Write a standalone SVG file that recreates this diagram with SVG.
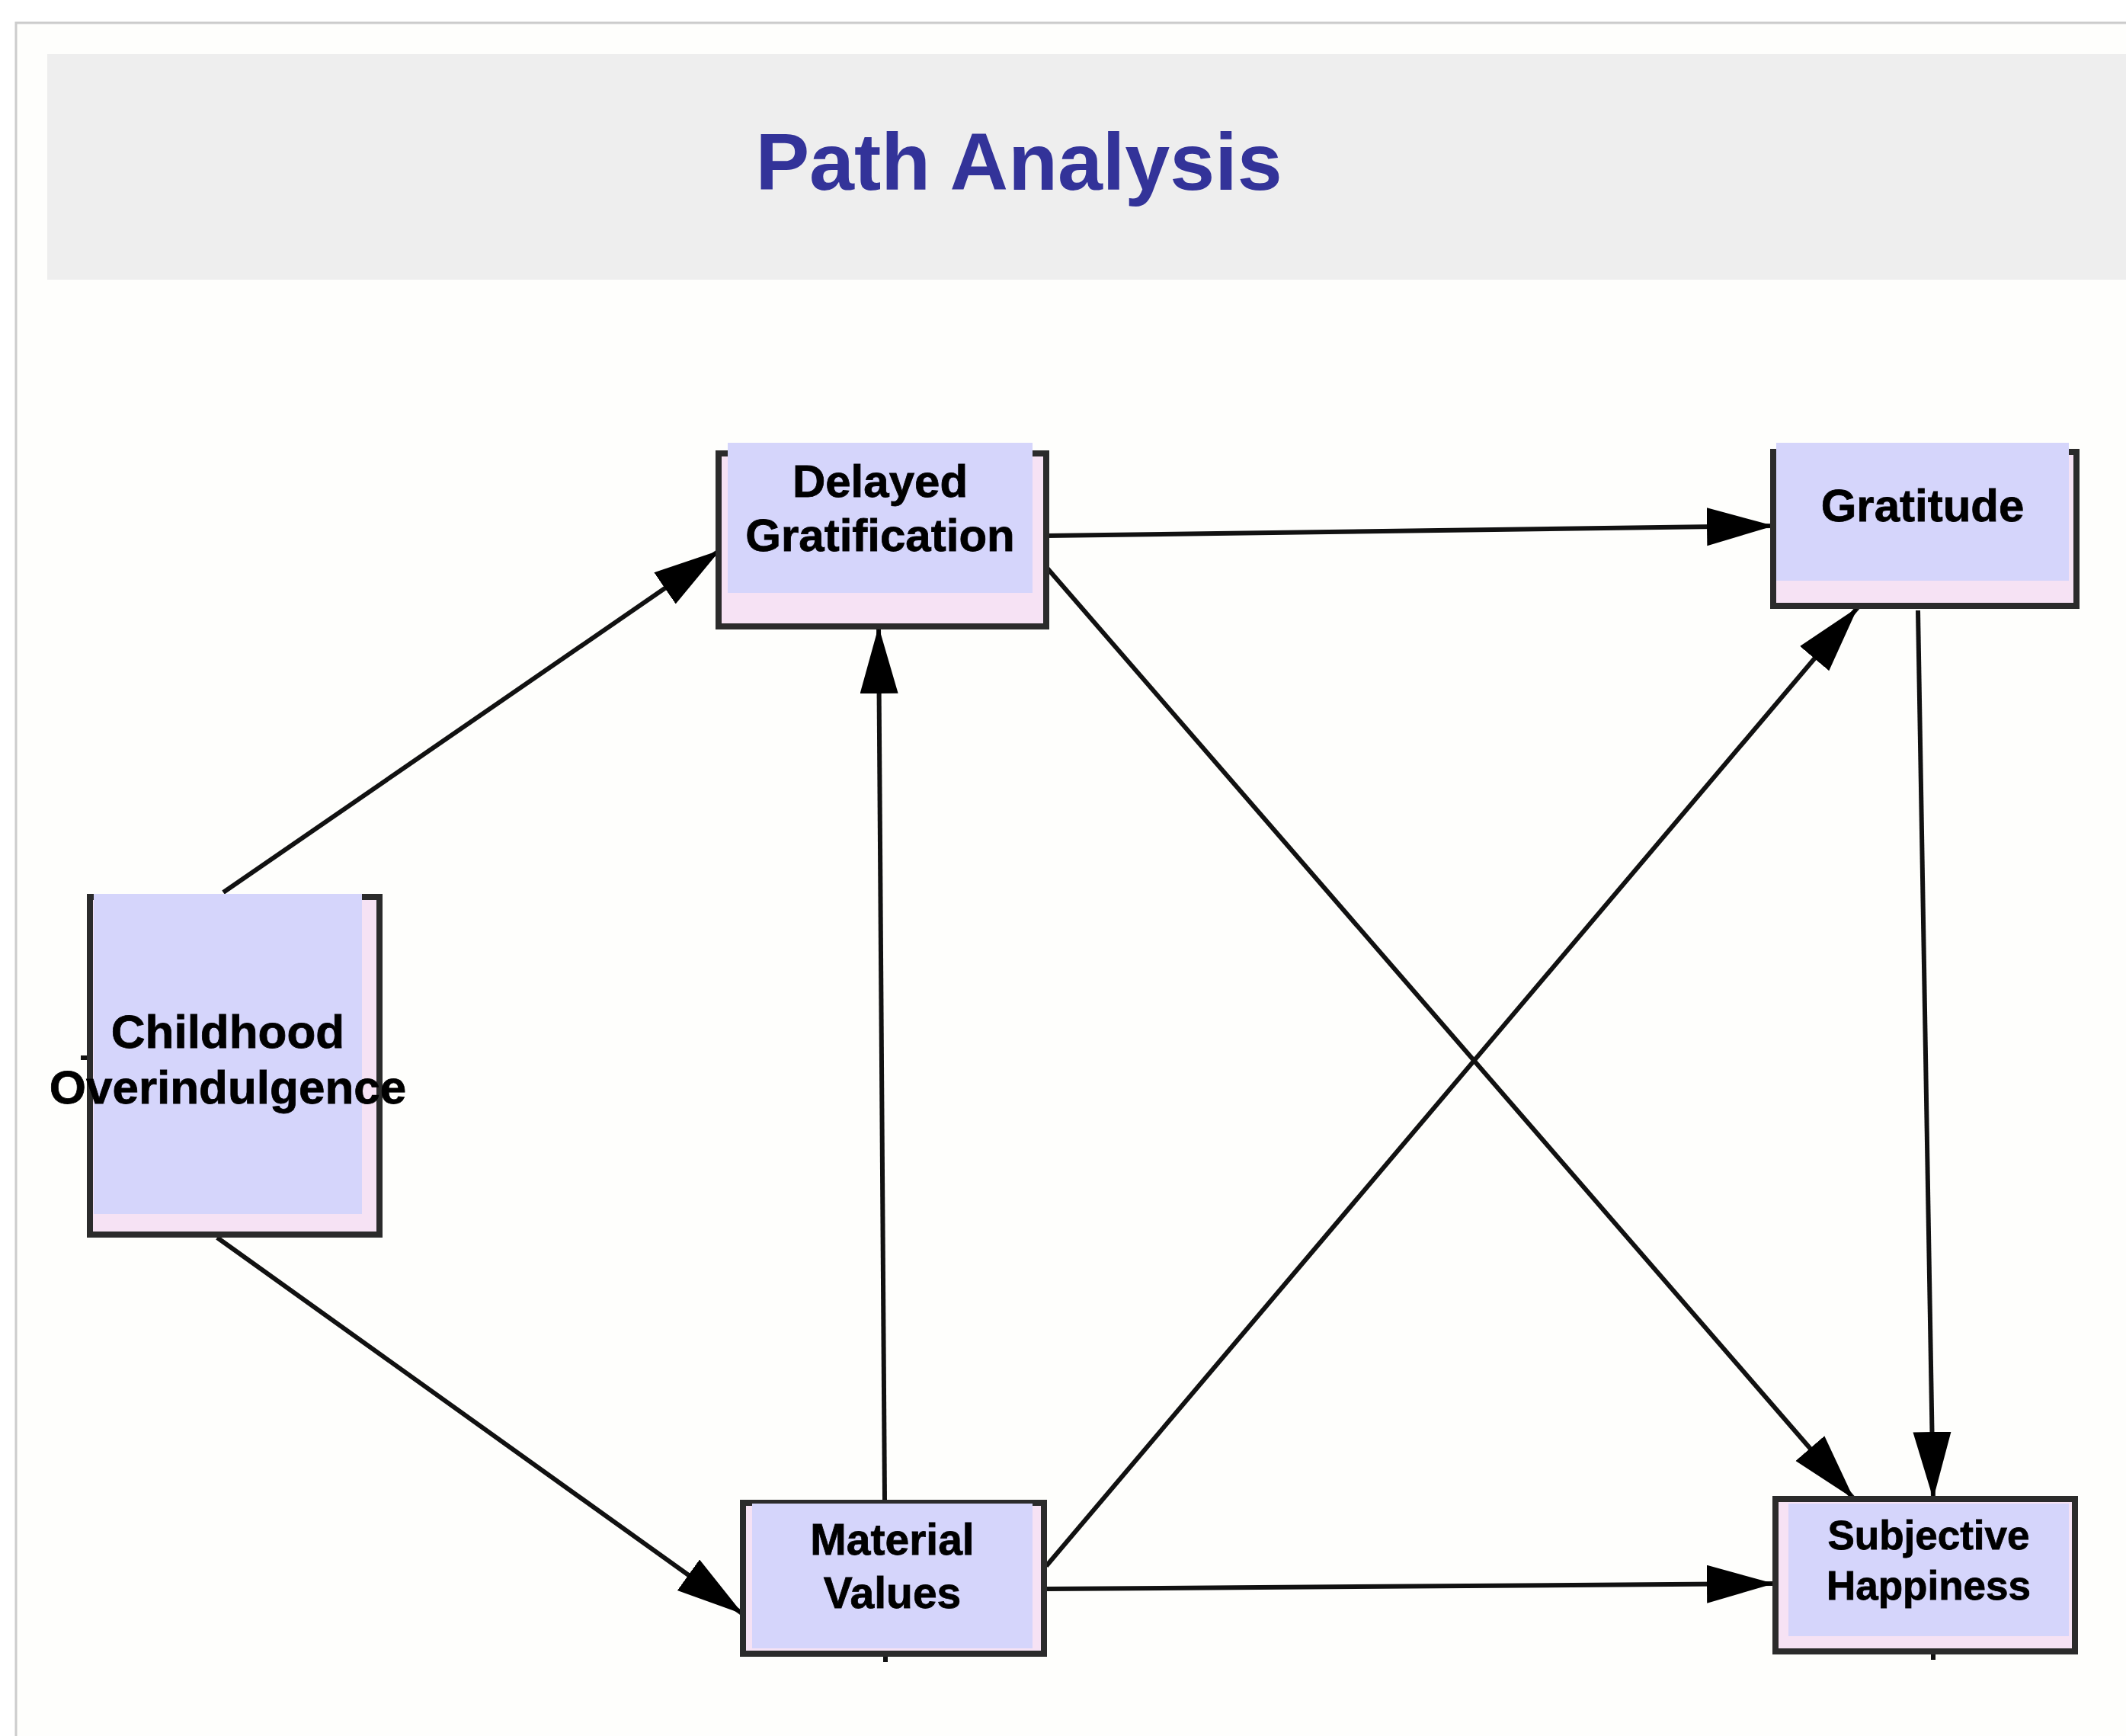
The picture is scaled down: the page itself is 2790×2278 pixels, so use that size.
<svg xmlns="http://www.w3.org/2000/svg" width="2790" height="2278" viewBox="0 0 2790 2278">
<style>
.box{fill:#f6e2f4;stroke:#2b2b2b;stroke-width:8}
.lbl{fill:#d5d5fb}
.t{font-family:"Liberation Sans",Arial,sans-serif;font-weight:bold;fill:#000;text-anchor:middle;stroke:#000;stroke-width:0.8}
.edge{stroke:#111;stroke-width:6;fill:none}
</style>
<defs>
<marker id="ah" markerUnits="userSpaceOnUse" markerWidth="92" markerHeight="52" refX="88" refY="25" orient="auto">
<path d="M0,0 L88,25 L0,50 z" fill="#000"/>
</marker>
</defs>
<rect x="0" y="0" width="2790" height="2278" fill="#ffffff"/>
<rect x="21" y="30" width="2790" height="2260" fill="#fefefc" stroke="#cccccc" stroke-width="3"/>
<rect x="62" y="71" width="2740" height="296" fill="#eeeeee"/>
<text x="1337" y="249" font-family="'Liberation Sans',Arial,sans-serif" font-weight="bold" font-size="106" fill="#333399" text-anchor="middle">Path Analysis</text>

<g id="connectors">
<line class="edge" x1="293" y1="1171" x2="945" y2="722" marker-end="url(#ah)"/>
<line class="edge" x1="285" y1="1624" x2="975" y2="2118" marker-end="url(#ah)"/>
<line class="edge" x1="1161" y1="1968" x2="1153" y2="822" marker-end="url(#ah)"/>
<line class="edge" x1="1373" y1="703" x2="2328" y2="690" marker-end="url(#ah)"/>
<line class="edge" x1="1373" y1="744" x2="2433" y2="1967" marker-end="url(#ah)"/>
<line class="edge" x1="1373" y1="2055" x2="2438" y2="797" marker-end="url(#ah)"/>
<line class="edge" x1="1373" y1="2085" x2="2328" y2="2078" marker-end="url(#ah)"/>
<line class="edge" x1="2517" y1="801" x2="2537" y2="1967" marker-end="url(#ah)"/>
<line class="edge" x1="1162" y1="2170" x2="1162" y2="2181"/>
<line class="edge" x1="2537" y1="2167" x2="2537" y2="2178"/>
<line class="edge" x1="106" y1="1388" x2="118" y2="1388"/>
</g>

<g id="node-childhood">
<rect class="box" x="118" y="1177" width="380" height="443"/>
<rect class="lbl" x="123" y="1173" width="352" height="420"/>
<text class="t" font-size="62"><tspan x="299" y="1375">Childhood</tspan><tspan x="299" y="1448">Overindulgence</tspan></text>
</g>

<g id="node-delayed">
<rect class="box" x="943" y="595" width="430" height="227"/>
<rect class="lbl" x="955" y="581" width="400" height="197"/>
<text class="t" font-size="60"><tspan x="1155" y="652">Delayed</tspan><tspan x="1155" y="723">Gratification</tspan></text>
</g>

<g id="node-gratitude">
<rect class="box" x="2327" y="593" width="398" height="202"/>
<rect class="lbl" x="2331" y="581" width="384" height="181"/>
<text class="t" font-size="60" x="2523" y="684">Gratitude</text>
</g>

<g id="node-material">
<rect class="box" x="975" y="1972" width="395" height="198"/>
<rect class="lbl" x="987" y="1973" width="368" height="190"/>
<text class="t" font-size="57"><tspan x="1171" y="2040">Material</tspan><tspan x="1171" y="2110">Values</tspan></text>
</g>

<g id="node-happiness">
<rect class="box" x="2330" y="1967" width="393" height="200"/>
<rect class="lbl" x="2347" y="1973" width="368" height="174"/>
<text class="t" font-size="53"><tspan x="2531" y="2033">Subjective</tspan><tspan x="2531" y="2099">Happiness</tspan></text>
</g>
</svg>
